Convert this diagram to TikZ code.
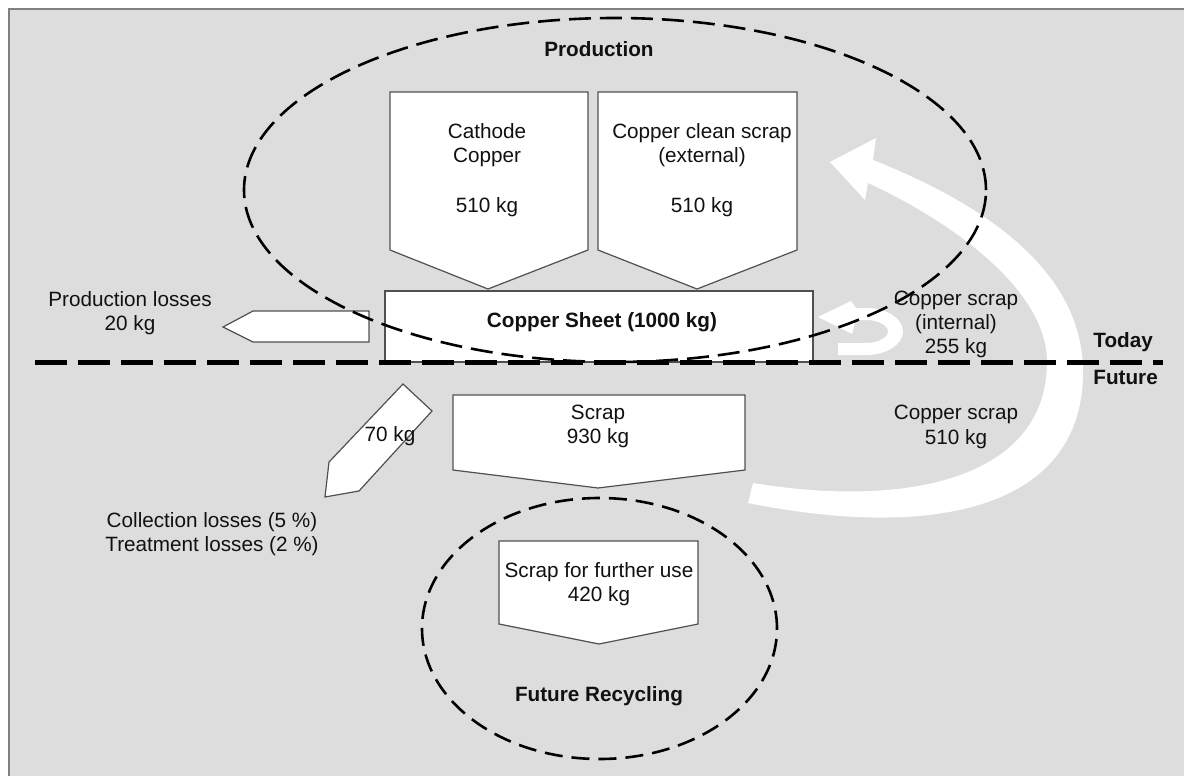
\documentclass[tikz,border=0pt]{standalone}
\usepackage{fontspec}
\setmainfont{Liberation Sans}
\definecolor{bg}{HTML}{DDDDDD}
\definecolor{boxline}{HTML}{505050}
\definecolor{txt}{HTML}{111111}
\definecolor{framegray}{HTML}{808080}
\begin{document}
\begin{tikzpicture}[x=0.5pt,y=-0.5pt,
  every node/.style={font=\fontsize{10.35pt}{12.2pt}\selectfont, text=txt, inner sep=0pt, align=center},
  flowbox/.style={fill=white, draw=boxline, line width=0.6pt, line join=miter},
  region/.style={draw=black, line width=1.3pt, dash pattern=on 11pt off 4.5pt},
  subregion/.style={draw=black, line width=1.3pt, dash pattern=on 9pt off 4.5pt},
  timeline/.style={draw=black, line width=2.5pt, dash pattern=on 16pt off 5.5pt},
  flowband/.style={fill=white}
]
\useasboundingbox (0,0) rectangle (1184,776);
% page and panel
\fill[white] (0,0) rectangle (1184,776);
\fill[bg] (9,9) rectangle (1184,776);
\draw[framegray, line width=0.75pt] (9,776) -- (9,9) -- (1184,9);

% input flows
\draw[flowbox] (390,92) -- (588,92) -- (588,250) -- (488,289) -- (390,250) -- cycle;
\draw[flowbox] (598,92) -- (797,92) -- (797,250) -- (697,289) -- (598,250) -- cycle;
% copper sheet
\draw[flowbox] (385,291) rectangle (813,362);
% production losses
\draw[flowbox] (223,327) -- (253,311) -- (369,311) -- (369,342) -- (253,342) -- cycle;
% collection / treatment losses
\draw[flowbox] (403,384) -- (432,411) -- (359,491) -- (325,497) -- (329,462) -- cycle;
% scrap
\draw[flowbox] (453,395) -- (745,395) -- (745,470) -- (598,488) -- (453,470) -- cycle;
% scrap for further use
\draw[flowbox] (499,541) -- (698,541) -- (698,624) -- (599,644) -- (499,624) -- cycle;

% internal scrap loop
\fill[flowband] (838,355) -- (866,355)
  .. controls (886.4,355) and (903,344.5) .. (903,331.5)
  .. controls (903,318.5) and (886.4,308) .. (866,308)
  -- (856,308) -- (851,301) -- (818,317) -- (852,334) -- (856,320) -- (866,320)
  .. controls (878.1,320) and (888,325.2) .. (888,331.5)
  .. controls (888,337.8) and (878.1,343) .. (866,343)
  -- (838,343) -- cycle;

% future scrap return
\fill[flowband] (748,503) .. controls (938,541) and (1083,507) .. (1083,372)
  .. controls (1083,262) and (966,197) .. (873,160)
  -- (876,138) -- (830,162) -- (865,200) -- (868,183)
  .. controls (932,212) and (1047,282) .. (1047,362)
  .. controls (1047,477) and (911,509) .. (753,483) -- cycle;

% system boundaries
\draw[region] (615,190) ellipse [x radius=185.5pt, y radius=86pt];
\draw[subregion] (599.5,628.5) ellipse [x radius=88.75pt, y radius=65.25pt];

% today / future divider
\draw[timeline] (35,362) -- (1163,362);

% labels
\node (prod) at (599,49) {\bfseries Production};
\node (cath) at (487,170) {Cathode\\Copper\\[12.6pt]510 kg};
\node (ext) at (702,170) {Copper clean scrap\\(external)\\[12.6pt]510 kg};
\node (sheet) at (602,322) {\bfseries Copper Sheet (1000 kg)};
\node (plost) at (130,313) {Production losses\\20 kg};
\node (cut) at (390,436) {70 kg};
\node (scrap) at (598,426.5) {Scrap\\930 kg};
\node (coll) at (212,534) {Collection losses (5 \%)\\Treatment losses (2 \%)};
\node (int) at (956,324.5) {Copper scrap\\(internal)\\255 kg};
\node (ret) at (956,427) {Copper scrap\\510 kg};
\node[anchor=west] (today) at (1093,342) {\bfseries Today};
\node[anchor=west] (future) at (1093,377) {\bfseries Future};
\node (further) at (599,584) {Scrap for further use\\420 kg};
\node (frec) at (599,696) {\bfseries Future Recycling};
\end{tikzpicture}
\end{document}
